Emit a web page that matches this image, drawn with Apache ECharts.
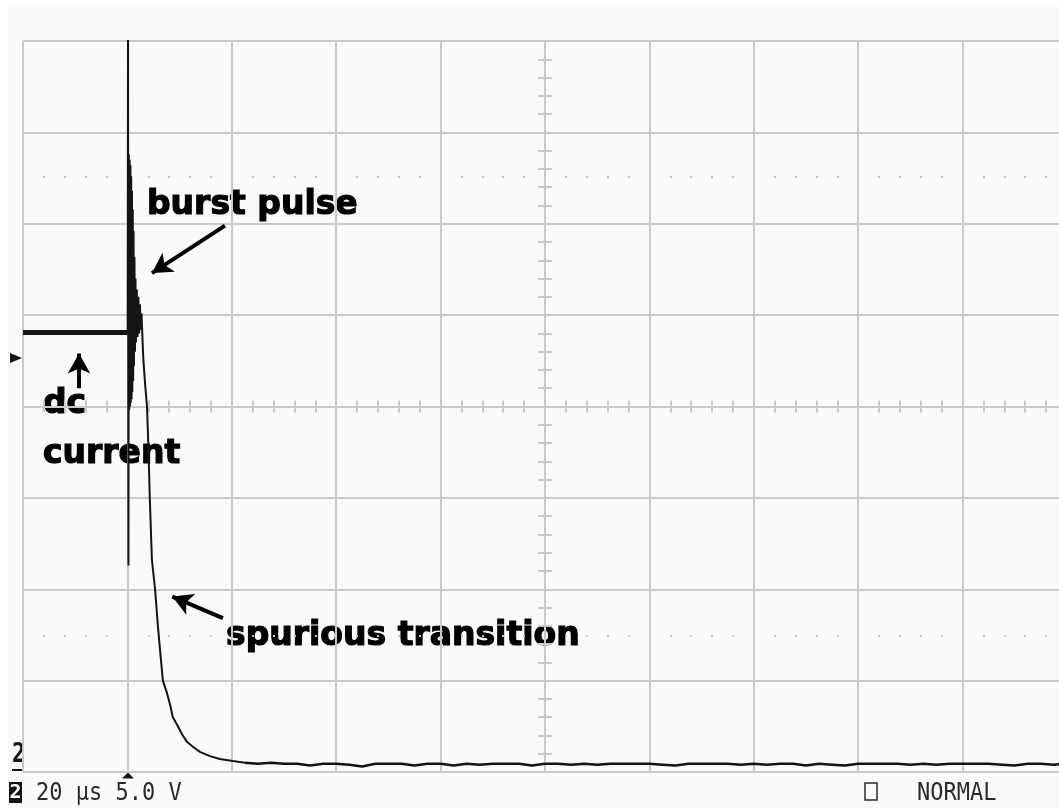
<!DOCTYPE html>
<html>
<head>
<meta charset="utf-8">
<title>burst pulse</title>
<script src="https://cdn.jsdelivr.net/npm/echarts@6/dist/echarts.min.js"></script>
<style>
  html, body { margin: 0; padding: 0; background: #fff; }
  #scope { width: 1059px; height: 808px; }
</style>
</head>
<body>
<div id="scope"></div>
<script>
// time in µs (20 µs/div), channel 2 in volts (5.0 V/div), ground on the bottom line

// dc current before the trigger
var dcTime = [0, 20.05];
var dcVolts = [24.05, 24.05];

// burst at the trigger, then the spurious transition
var traceTime = [20.05, 20.12, 20.2, 20.27, 20.35, 20.43, 20.5, 20.58, 20.65, 20.73,
  20.8, 20.88, 20.95, 21.03, 21.1, 21.18, 21.25, 21.35, 21.45, 21.55,
  21.65, 21.8, 21.95, 22.1, 22.25, 22.4, 22.55, 22.7, 22.85,
  23.05, 23.4, 23.75, 24.0, 24.3, 24.7, 25.3, 25.9, 26.4, 26.8,
  27.6, 28.2, 28.7, 29.5, 30.5, 31.4, 32.6, 33.9, 35.8, 37.7,
  40.2, 42.5];
var traceVolts = [24.0, 40.5, 11.3, 33.8, 19.8, 33.5, 20.0, 33.2, 20.2, 32.6,
  20.4, 31.8, 20.8, 30.8, 21.4, 29.6, 22.2, 28.2, 23.0, 27.0,
  23.5, 26.4, 23.8, 26.0, 24.0, 25.6, 24.2, 25.1, 24.0,
  22.6, 21.2, 20.0, 18.0, 14.9, 11.6, 10.0, 7.8, 6.2, 5.0,
  4.3, 3.65, 3.0, 2.6, 2.05, 1.65, 1.37, 1.1, 0.87, 0.71,
  0.6, 0.5];

// settled level
var baseTime = [45, 47.5, 50, 52.5, 55, 57.5, 60, 62.5, 65, 67.5,
  70, 72.5, 75, 77.5, 80, 82.5, 85, 87.5, 90, 92.5,
  95, 97.5, 100, 102.5, 105, 107.5, 110, 112.5, 115, 117.5,
  120, 122.5, 125, 127.5, 130, 132.5, 135, 137.5, 140, 142.5,
  145, 147.5, 150, 152.5, 155, 157.5, 160, 162.5, 165, 167.5,
  170, 172.5, 175, 177.5, 180, 182.5, 185, 187.5, 190, 192.5,
  195, 197.5, 200];
var baseVolts = [0.45, 0.5, 0.45, 0.45, 0.35, 0.45, 0.45, 0.4, 0.3, 0.45,
  0.45, 0.45, 0.35, 0.45, 0.45, 0.35, 0.45, 0.4, 0.45, 0.45,
  0.45, 0.35, 0.45, 0.45, 0.4, 0.45, 0.4, 0.45, 0.45, 0.45,
  0.45, 0.4, 0.35, 0.45, 0.45, 0.45, 0.45, 0.4, 0.45, 0.4,
  0.45, 0.45, 0.35, 0.45, 0.4, 0.35, 0.45, 0.45, 0.45, 0.45,
  0.4, 0.45, 0.4, 0.45, 0.45, 0.45, 0.45, 0.4, 0.35, 0.45,
  0.45, 0.4, 0.45];

var zip = function (xs, ys) { return xs.map(function (x, i) { return [x, ys[i]]; }); };

var gridColor = '#c9c9c9';
var ink = '#141414';
var noteFont = 'bold 33px "DejaVu Sans"';
var scopeFont = '22px "DejaVu Sans Mono"';

// extra axes only used to draw graticule ticks / dots
var tickX = function (position, offset, inside, len, color) {
  return {
    type: 'value', min: 0, max: 200, interval: 20, position: position, offset: offset,
    axisLine: { show: false }, axisLabel: { show: false }, splitLine: { show: false },
    axisTick: { show: false, inside: inside },
    minorTick: { show: true, splitNumber: 5, length: len, lineStyle: { color: color, width: 2 } }
  };
};
var tickY = function (inside) {
  return {
    type: 'value', min: 0, max: 40, interval: 5, position: 'left', offset: -522,
    axisLine: { show: false }, axisLabel: { show: false }, splitLine: { show: false },
    axisTick: { show: false, inside: inside },
    minorTick: { show: true, splitNumber: 5, length: 7, lineStyle: { color: gridColor, width: 2 } }
  };
};
var note = function (text, x, y) {
  return {
    type: 'text',
    style: { text: text, x: x, y: y, verticalAlign: 'middle', font: noteFont, fill: '#000', stroke: '#000', lineWidth: 1.2 }
  };
};

var myChart = echarts.init(document.getElementById('scope'));

var option = {
  animation: false,
  backgroundColor: '#fafafa',
  grid: { left: 23, top: 41, width: 1044, height: 731, outerBoundsMode: 'none' },
  xAxis: [
    {
      type: 'value', min: 0, max: 200, interval: 20,
      axisLine: { show: false }, axisTick: { show: false }, axisLabel: { show: false },
      splitLine: { show: true, lineStyle: { color: gridColor, width: 2 } }
    },
    tickX('bottom', -365.5, false, 6, gridColor),
    tickX('bottom', -365.5, true, 6, gridColor),
    tickX('top', -137.1, false, 2, '#c4c4c4'),
    tickX('bottom', -137.1, false, 2, '#c4c4c4')
  ],
  yAxis: [
    {
      type: 'value', min: 0, max: 40, interval: 5,
      axisLine: { show: false }, axisTick: { show: false }, axisLabel: { show: false },
      splitLine: { show: true, lineStyle: { color: gridColor, width: 2 } }
    },
    tickY(false),
    tickY(true)
  ],
  series: [
    {
      name: 'dc', type: 'line', showSymbol: false, clip: true,
      data: zip(dcTime, dcVolts),
      lineStyle: { color: ink, width: 5 }
    },
    {
      name: 'ch2', type: 'line', showSymbol: false, clip: true,
      data: zip(traceTime, traceVolts),
      lineStyle: { color: ink, width: 2 },
      markLine: {
        silent: true,
        symbol: ['none', 'arrow'],
        symbolSize: [17, 20],
        label: { show: false },
        lineStyle: { color: '#000', width: 4, type: 'solid' },
        data: [
          [{ coord: [38.7, 29.9] }, { coord: [24.7, 27.3] }],
          [{ coord: [10.73, 21.0] }, { coord: [10.73, 22.9] }],
          [{ coord: [38.3, 8.42] }, { coord: [28.6, 9.6] }]
        ]
      }
    },
    {
      name: 'ch2 settled', type: 'line', showSymbol: false, clip: true,
      data: zip([42.5].concat(baseTime), [0.5].concat(baseVolts)),
      lineStyle: { color: ink, width: 2.5 }
    }
  ],
  graphic: [
    { type: 'rect', shape: { x: 0, y: 0, width: 1059, height: 5 }, style: { fill: '#fff' } },
    { type: 'rect', shape: { x: 0, y: 0, width: 8, height: 808 }, style: { fill: '#fff' } },

    note('burst pulse', 147, 205),
    note('dc', 43, 404),
    note('current', 43, 454),
    note('spurious transition', 226, 636),

    // trigger level and trigger position markers
    { type: 'polygon', shape: { points: [[10, 353], [22, 358], [10, 363]] }, style: { fill: ink } },
    { type: 'polygon', shape: { points: [[122, 778.5], [128, 772.5], [134, 778.5]] }, style: { fill: ink } },

    // channel 2 ground marker
    { type: 'text', x: 12, y: 755, scaleY: 1.2, style: { text: '2', x: 0, y: 0, verticalAlign: 'middle', font: 'bold 22px "DejaVu Sans Mono"', fill: ink } },
    { type: 'rect', shape: { x: 12, y: 769, width: 11, height: 2 }, style: { fill: ink } },

    // readout line
    { type: 'rect', shape: { x: 9, y: 782, width: 13, height: 21 }, style: { fill: ink } },
    { type: 'text', style: { text: '2', x: 15.5, y: 793, align: 'center', verticalAlign: 'middle', font: 'bold 20px "DejaVu Sans Mono"', fill: '#fff' } },
    { type: 'text', x: 36, y: 794, scaleY: 1.1, style: { text: '20 µs 5.0 V', x: 0, y: 0, verticalAlign: 'middle', font: scopeFont, fill: '#2a2a2a' } },
    { type: 'rect', shape: { x: 865, y: 783, width: 12, height: 17 }, style: { fill: 'none', stroke: '#2a2a2a', lineWidth: 1.5 } },
    { type: 'text', x: 917, y: 794, scaleY: 1.1, style: { text: 'NORMAL', x: 0, y: 0, verticalAlign: 'middle', font: scopeFont, fill: '#2a2a2a' } }
  ]
};

myChart.setOption(option);
window.addEventListener('resize', function () {
  myChart.resize();
});
</script>
</body>
</html>
